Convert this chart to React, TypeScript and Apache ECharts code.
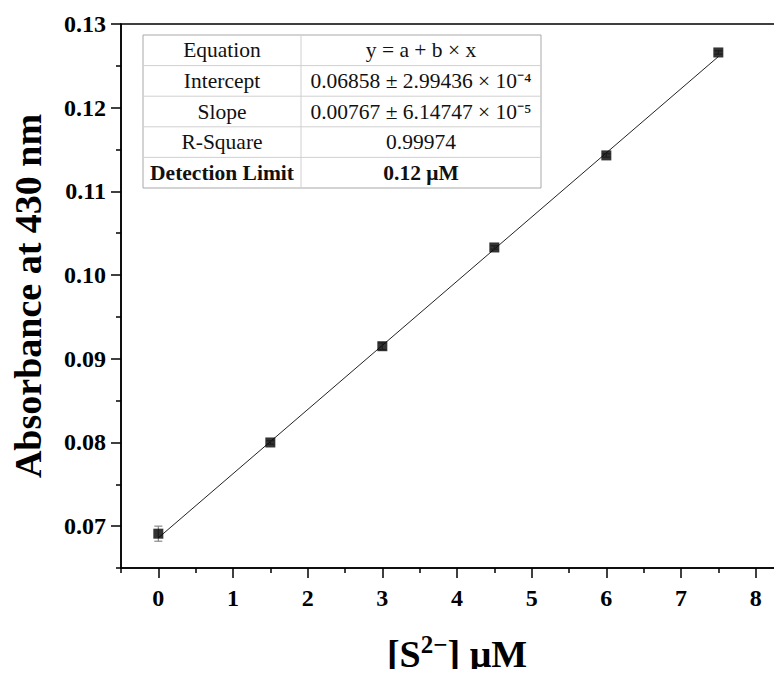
import React, { useEffect, useRef } from "react";
import * as echarts from "echarts";

const concentrations = [0, 1.5, 3, 4.5, 6, 7.5];
const absorbance = [0.0691, 0.08, 0.0915, 0.1033, 0.1143, 0.1266];
const errors = [0.0009, 0.0002, 0.0004, 0.0002, 0.0002, 0.0002];
const fitLine = [
  [0, 0.0686],
  [7.5, 0.1261],
];
const xMajorTicks = [0, 1, 2, 3, 4, 5, 6, 7, 8];
const xMinorTicks = [-0.5, 0.5, 1.5, 2.5, 3.5, 4.5, 5.5, 6.5, 7.5, 8.5];
const yMajorTicks = [0.07, 0.08, 0.09, 0.1, 0.11, 0.12, 0.13];
const yMinorTicks = [0.065, 0.075, 0.085, 0.095, 0.105, 0.115, 0.125];
const tableLabels = ["Equation", "Intercept", "Slope", "R-Square", "Detection Limit"];
const tableValues = [
  "y = a + b × x",
  "0.06858 ± 2.99436 × 10⁻⁴",
  "0.00767 ± 6.14747 × 10⁻⁵",
  "0.99974",
  "0.12 μM",
];

const FONT = "'Liberation Serif', 'Times New Roman', serif";

export default function App() {
  const ref = useRef<HTMLDivElement>(null);
  useEffect(() => {
    if (!ref.current) return;
    const chart = echarts.init(ref.current, null, { renderer: "svg" });

    const tX = 143, tY = 35, tW = 398, rowH = 30.6, splitX = 301;
    const graphics: any[] = [];
    graphics.push({
      type: "rect",
      shape: { x: tX, y: tY, width: tW, height: rowH * 5 },
      style: { fill: "#fff", stroke: "#a8a8a8", lineWidth: 1 },
      z: 10,
    });
    for (let i = 1; i < 5; i++) {
      graphics.push({
        type: "line",
        shape: { x1: tX, y1: tY + rowH * i, x2: tX + tW, y2: tY + rowH * i },
        style: { stroke: "#d0d0d0", lineWidth: 1 },
        z: 11,
      });
    }
    graphics.push({
      type: "line",
      shape: { x1: splitX, y1: tY, x2: splitX, y2: tY + rowH * 5 },
      style: { stroke: "#d0d0d0", lineWidth: 1 },
      z: 11,
    });
    tableLabels.forEach((lab, i) => {
      const bold = i === 4;
      graphics.push({
        type: "text",
        x: (tX + splitX) / 2,
        y: tY + rowH * i + rowH / 2,
        style: {
          text: lab,
          fill: "#111",
          font: `${bold ? "bold " : ""}21.5px ${FONT}`,
          textAlign: "center",
          textVerticalAlign: "middle",
        },
        z: 12,
      });
      graphics.push({
        type: "text",
        x: (splitX + tX + tW) / 2,
        y: tY + rowH * i + rowH / 2,
        style: {
          text: tableValues[i],
          fill: "#111",
          font: `${bold ? "bold " : ""}21.5px ${FONT}`,
          textAlign: "center",
          textVerticalAlign: "middle",
        },
        z: 12,
      });
    });

    const scatterData = concentrations.map((c, i) => [c, absorbance[i]]);
    const errData = concentrations.map((c, i) => [c, absorbance[i] - errors[i], absorbance[i] + errors[i]]);

    const option: any = {
      animation: false,
      backgroundColor: "#fff",
      grid: {
        left: 121,
        right: -11,
        top: 24,
        bottom: 109,
        show: true,
        containLabel: false,
        outerBoundsMode: "none",
        borderColor: "#000",
        borderWidth: 1.5,
        backgroundColor: "transparent",
      },
      xAxis: [
        {
          type: "value",
          min: -0.5,
          max: 8.5,
          splitLine: { show: false },
          axisLine: { show: true, onZero: false, lineStyle: { color: "#000", width: 1.5 } },
          axisTick: { show: true, customValues: xMajorTicks, length: 10, lineStyle: { color: "#000", width: 1.5 } },
          axisLabel: {
            customValues: xMajorTicks,
            margin: 18,
            color: "#000",
            fontFamily: FONT,
            fontWeight: "bold",
            fontSize: 24,
            formatter: (v: number) => String(v),
          },
          name: "{a|[S}{sup|2−}{a|] μM}",
          nameLocation: "middle",
          nameGap: 64,
          nameTextStyle: {
            rich: {
              a: { fontFamily: FONT, fontWeight: "bold", fontSize: 38, color: "#000" },
              sup: { fontFamily: FONT, fontWeight: "bold", fontSize: 25, color: "#000", padding: [0, 0, 18, 0] },
            },
          },
        },
        {
          type: "value",
          min: -0.5,
          max: 8.5,
          gridIndex: 0,
          position: "bottom",
          splitLine: { show: false },
          axisLine: { show: false, onZero: false },
          axisTick: { show: true, customValues: xMinorTicks, length: 5, lineStyle: { color: "#000", width: 1.5 } },
          axisLabel: { show: false },
        },
      ],
      yAxis: [
        {
          type: "value",
          min: 0.065,
          max: 0.13,
          splitLine: { show: false },
          axisLine: { show: true, onZero: false, lineStyle: { color: "#000", width: 1.5 } },
          axisTick: { show: true, customValues: yMajorTicks, length: 10, lineStyle: { color: "#000", width: 1.5 } },
          axisLabel: {
            customValues: yMajorTicks,
            margin: 15,
            color: "#000",
            fontFamily: FONT,
            fontWeight: "bold",
            fontSize: 24,
            formatter: (v: number) => v.toFixed(2),
          },
          name: "Absorbance at 430 nm",
          nameLocation: "middle",
          nameGap: 74,
          nameRotate: 90,
          nameTextStyle: { fontFamily: FONT, fontWeight: "bold", fontSize: 38, color: "#000" },
        },
        {
          type: "value",
          min: 0.065,
          max: 0.13,
          gridIndex: 0,
          position: "left",
          splitLine: { show: false },
          axisLine: { show: false, onZero: false },
          axisTick: { show: true, customValues: yMinorTicks, length: 5, lineStyle: { color: "#000", width: 1.5 } },
          axisLabel: { show: false },
        },
      ],
      series: [
        {
          type: "line",
          data: fitLine,
          showSymbol: false,
          symbol: "none",
          lineStyle: { color: "#222", width: 1 },
          z: 2,
        },
        {
          type: "custom",
          data: errData,
          renderItem: (params: any, api: any) => {
            const x = api.value(0);
            const lo = api.coord([x, api.value(1)]);
            const hi = api.coord([x, api.value(2)]);
            const cap = 4;
            const st = { stroke: "#888", lineWidth: 1.2 };
            return {
              type: "group",
              children: [
                { type: "line", shape: { x1: lo[0], y1: lo[1], x2: hi[0], y2: hi[1] }, style: st },
                { type: "line", shape: { x1: lo[0] - cap, y1: lo[1], x2: lo[0] + cap, y2: lo[1] }, style: st },
                { type: "line", shape: { x1: hi[0] - cap, y1: hi[1], x2: hi[0] + cap, y2: hi[1] }, style: st },
              ],
            };
          },
          z: 3,
        },
        {
          type: "scatter",
          data: scatterData,
          symbol: "rect",
          symbolSize: 10,
          itemStyle: { color: "#000" },
          z: 4,
        },
      ],
      graphic: graphics,
    };
    chart.setOption(option);
    return () => chart.dispose();
  }, []);
  return <div ref={ref} style={{ width: 782, height: 677, margin: -8 }} />;
}
